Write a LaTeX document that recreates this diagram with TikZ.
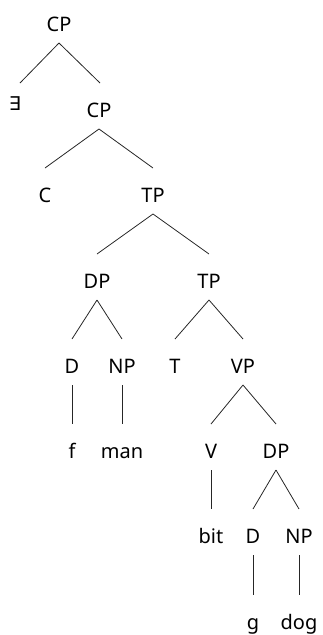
\documentclass[tikz,border=0pt]{standalone}
\usepackage{fontspec}
\setmainfont{Noto Sans}
\newfontfamily\symfont{DejaVu Sans}
\begin{document}
\begin{tikzpicture}[x=1pt,y=1pt,
  lbl/.style={anchor=base,inner sep=0pt,font=\fontsize{20}{23}\selectfont},
  br/.style={line width=0.8pt,draw=black!85}]
\useasboundingbox (0,0) rectangle (322,-635);
% row baselines: 31,117,202,288,373,458,543,629
\node[lbl] (cp1) at (59,-31) {CP};
\node[lbl] (ex) at (15,-110) {\symfont\fontsize{19}{22}\selectfont ∃};
\node[lbl] (cp2) at (99,-117) {CP};
\node[lbl] (c) at (45,-202) {C};
\node[lbl] (tp1) at (153,-202) {TP};
\node[lbl] (dp1) at (97,-288) {DP};
\node[lbl] (tp2) at (209,-288) {TP};
\node[lbl] (d1) at (72,-373) {D};
\node[lbl] (np1) at (122,-373) {NP};
\node[lbl] (t) at (175,-373) {T};
\node[lbl] (vp) at (243,-373) {VP};
\node[lbl] (f) at (72,-458) {f};
\node[lbl] (man) at (122,-458) {man};
\node[lbl] (v) at (211,-458) {V};
\node[lbl] (dp2) at (276,-458) {DP};
\node[lbl] (bit) at (211,-543) {bit};
\node[lbl] (d2) at (253,-543) {D};
\node[lbl] (np2) at (299,-543) {NP};
\node[lbl] (g) at (253,-629) {g};
\node[lbl] (dog) at (299,-629) {dog};
% branches
\draw[br] ([yshift=-12pt]cp1.base) -- ([xshift=5pt,yshift=27pt]ex.base);
\draw[br] ([yshift=-12pt]cp1.base) -- ([xshift=1pt,yshift=34pt]cp2.base);
\draw[br] ([yshift=-12pt]cp2.base) -- ([yshift=34pt]c.base);
\draw[br] ([yshift=-12pt]cp2.base) -- ([yshift=34pt]tp1.base);
\draw[br] ([yshift=-12pt]tp1.base) -- ([yshift=34pt]dp1.base);
\draw[br] ([yshift=-12pt]tp1.base) -- ([yshift=34pt]tp2.base);
\draw[br] ([yshift=-12pt]dp1.base) -- ([yshift=34pt]d1.base);
\draw[br] ([yshift=-12pt]dp1.base) -- ([yshift=34pt]np1.base);
\draw[br] ([yshift=-12pt]tp2.base) -- ([yshift=34pt]t.base);
\draw[br] ([yshift=-12pt]tp2.base) -- ([yshift=34pt]vp.base);
\draw[br] ([yshift=-12pt]d1.base) -- ([yshift=34pt]f.base);
\draw[br] ([yshift=-12pt]np1.base) -- ([yshift=34pt]man.base);
\draw[br] ([yshift=-12pt]vp.base) -- ([yshift=34pt]v.base);
\draw[br] ([yshift=-12pt]vp.base) -- ([yshift=34pt]dp2.base);
\draw[br] ([yshift=-12pt]v.base) -- ([yshift=34pt]bit.base);
\draw[br] ([yshift=-12pt]dp2.base) -- ([yshift=34pt]d2.base);
\draw[br] ([yshift=-12pt]dp2.base) -- ([yshift=34pt]np2.base);
\draw[br] ([yshift=-12pt]d2.base) -- ([yshift=34pt]g.base);
\draw[br] ([yshift=-12pt]np2.base) -- ([yshift=34pt]dog.base);
\end{tikzpicture}
\end{document}
